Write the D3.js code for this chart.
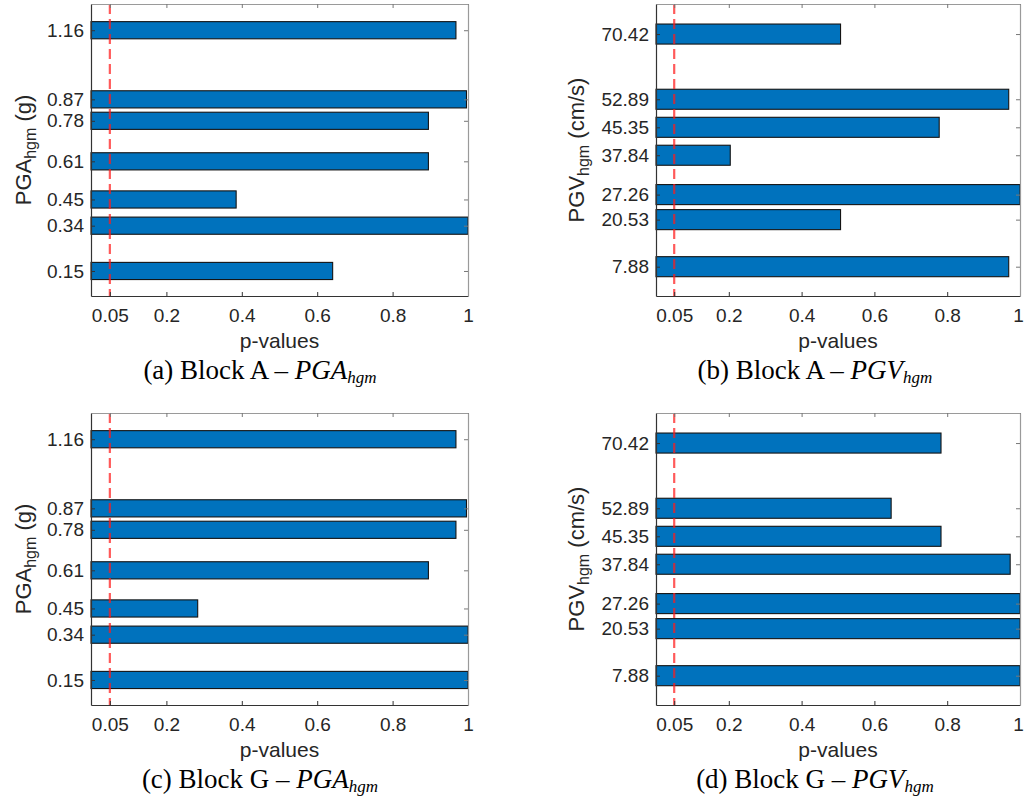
<!DOCTYPE html>
<html>
<head>
<meta charset="utf-8">
<script src="https://cdn.jsdelivr.net/npm/d3@7"></script>
<style>
  html, body { margin: 0; padding: 0; background: #fff; }
  svg { display: block; }
  .tick text { font-family: "Liberation Sans", Arial, sans-serif; }
</style>
</head>
<body>
<svg id="chart" width="1025" height="799"></svg>
<script>
// Ground-motion intensity levels (bar positions on the vertical axis)
const pgaLevels = [0.15, 0.34, 0.45, 0.61, 0.78, 0.87, 1.16];
const pgaTickLabels = ["0.15", "0.34", "0.45", "0.61", "0.78", "0.87", "1.16"];
const pgvLevels = [7.88, 20.53, 27.26, 37.84, 45.35, 52.89, 70.42];
const pgvTickLabels = ["7.88", "20.53", "27.26", "37.84", "45.35", "52.89", "70.42"];

// p-values for each intensity level
const blockA_PGA = [0.641, 1.0, 0.385, 0.895, 0.895, 0.996, 0.968];
const blockA_PGV = [0.969, 0.507, 1.0, 0.204, 0.778, 0.969, 0.507];
const blockG_PGA = [1.0, 1.0, 0.283, 0.895, 0.968, 0.996, 0.968];
const blockG_PGV = [1.0, 1.0, 1.0, 0.973, 0.783, 0.646, 0.783];

// p-value axis ticks and significance level
const pTicks = [0.05, 0.2, 0.4, 0.6, 0.8, 1];
const pTickLabels = ["0.05", "0.2", "0.4", "0.6", "0.8", "1"];
const alphaLevel = 0.05;

const svg = d3.select("#chart");
const TXT = "#262626";
const SANS = "'Liberation Sans', Arial, sans-serif";
const SERIF = "'Liberation Serif', 'Times New Roman', serif";

const panels = [
  { values: blockA_PGA, levels: pgaLevels, labels: pgaTickLabels, yDomain: [0.045, 1.27],
    box: { x0: 91, x1: 468, y0: 4, y1: 296 }, qty: "PGA", unit: " (g)", ylx: 31,
    cap: { tag: "(a)", block: "A", cx: 260, y: 379 } },
  { values: blockA_PGV, levels: pgvLevels, labels: pgvTickLabels, yDomain: [0, 78.5],
    box: { x0: 656, x1: 1020, y0: 4, y1: 296 }, qty: "PGV", unit: " (cm/s)", ylx: 584,
    cap: { tag: "(b)", block: "A", cx: 815, y: 379 } },
  { values: blockG_PGA, levels: pgaLevels, labels: pgaTickLabels, yDomain: [0.045, 1.27],
    box: { x0: 91, x1: 468, y0: 413, y1: 705 }, qty: "PGA", unit: " (g)", ylx: 31,
    cap: { tag: "(c)", block: "G", cx: 260, y: 788 } },
  { values: blockG_PGV, levels: pgvLevels, labels: pgvTickLabels, yDomain: [0, 78.5],
    box: { x0: 656, x1: 1020, y0: 413, y1: 705 }, qty: "PGV", unit: " (cm/s)", ylx: 584,
    cap: { tag: "(d)", block: "G", cx: 815, y: 788 } }
];

panels.forEach(p => {
  const b = p.box;
  const x = d3.scaleLinear().domain([0, 1]).range([b.x0, b.x1]);
  const y = d3.scaleLinear().domain(p.yDomain).range([b.y1, b.y0]);
  const g = svg.append("g");

  // bar thickness: 80% of the closest spacing between levels
  const sorted = p.levels.slice().sort((a, c) => a - c);
  const minGap = d3.min(d3.pairs(sorted), ([a, c]) => c - a);
  const bw = 0.8 * minGap;
  const rows = p.levels.map((lv, i) => ({ lv, v: p.values[i] }));

  g.selectAll("rect.bar").data(rows).join("rect")
    .attr("class", "bar")
    .attr("x", x(0))
    .attr("y", d => y(d.lv + bw / 2))
    .attr("width", d => x(d.v) - x(0))
    .attr("height", d => y(d.lv - bw / 2) - y(d.lv + bw / 2))
    .attr("fill", "#0072BD")
    .attr("stroke", "#141414")
    .attr("stroke-width", 1.1);

  // significance threshold
  g.append("line")
    .attr("x1", x(alphaLevel)).attr("x2", x(alphaLevel))
    .attr("y1", b.y0).attr("y2", b.y1)
    .attr("stroke", "#ff1a1a")
    .attr("stroke-opacity", 0.72)
    .attr("stroke-width", 2.2)
    .attr("stroke-dasharray", "10,5");

  // bottom axis with labels
  const xb = g.append("g").attr("transform", `translate(0,${b.y1})`)
    .call(d3.axisBottom(x).tickValues(pTicks)
      .tickFormat((d, i) => pTickLabels[i])
      .tickSizeInner(-4).tickSizeOuter(0).tickPadding(13));
  // keep the last label inside the page on the right-hand panels
  if (b.x1 > 1000) {
    xb.selectAll(".tick text").filter(d => d === 1).attr("dx", -2);
  }
  // top axis, ticks only
  const xt = g.append("g").attr("transform", `translate(0,${b.y0})`)
    .call(d3.axisTop(x).tickValues(pTicks).tickFormat("")
      .tickSizeInner(-4).tickSizeOuter(0));
  // left axis with labels
  const yl = g.append("g").attr("transform", `translate(${b.x0},0)`)
    .call(d3.axisLeft(y).tickValues(p.levels)
      .tickFormat((d, i) => p.labels[i])
      .tickSizeInner(-4).tickSizeOuter(0).tickPadding(7));
  // right axis, ticks only
  const yr = g.append("g").attr("transform", `translate(${b.x1},0)`)
    .call(d3.axisRight(y).tickValues(p.levels).tickFormat("")
      .tickSizeInner(-4).tickSizeOuter(0));

  [xb, yl].forEach(a => {
    a.select(".domain").attr("stroke", "#333").attr("stroke-width", 1.2);
    a.selectAll(".tick line").attr("stroke", "#333");
    a.selectAll(".tick text").attr("fill", TXT).attr("font-size", 19).attr("font-family", SANS);
  });
  [xt, yr].forEach(a => {
    a.select(".domain").attr("stroke", "#9a9a9a").attr("stroke-width", 1.2);
    a.selectAll(".tick line").attr("stroke", "#777");
  });

  // x-axis title
  g.append("text")
    .attr("x", (b.x0 + b.x1) / 2).attr("y", b.y1 + 52)
    .attr("text-anchor", "middle")
    .attr("font-family", SANS).attr("font-size", 21).attr("fill", TXT)
    .text("p-values");

  // y-axis title with subscript
  const yt = g.append("text")
    .attr("transform", `translate(${p.ylx},${(b.y0 + b.y1) / 2}) rotate(-90)`)
    .attr("text-anchor", "middle")
    .attr("font-family", SANS).attr("font-size", 22).attr("fill", TXT);
  yt.append("tspan").text(p.qty);
  yt.append("tspan").attr("font-size", 16).attr("dy", 5).text("hgm");
  yt.append("tspan").attr("dy", -5).text(p.unit);

  // sub-figure caption
  const ct = g.append("text")
    .attr("x", p.cap.cx).attr("y", p.cap.y)
    .attr("text-anchor", "middle")
    .attr("font-family", SERIF).attr("font-size", 27).attr("fill", "#000");
  ct.append("tspan").text(`${p.cap.tag} Block ${p.cap.block} \u2013 `);
  ct.append("tspan").attr("font-style", "italic").text(p.qty);
  ct.append("tspan").attr("font-style", "italic").attr("font-size", 17).attr("dy", 4).text("hgm");
});
</script>
</body>
</html>
